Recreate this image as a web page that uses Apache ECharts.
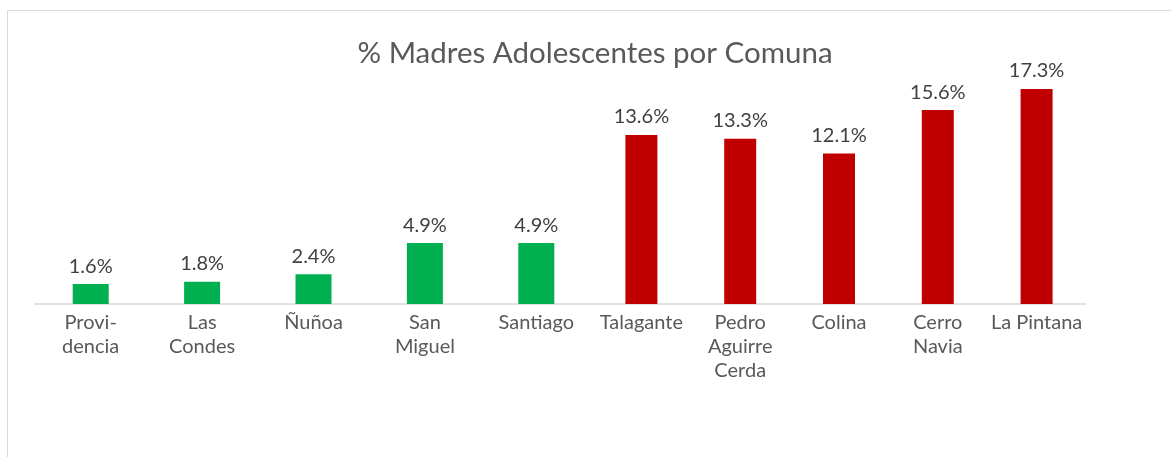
<!DOCTYPE html>
<html>
<head>
<meta charset="utf-8">
<script src="https://cdn.jsdelivr.net/npm/echarts@6/dist/echarts.min.js"></script>
<style>
html,body{margin:0;padding:0;background:#fff;overflow:hidden;}
#frame{position:absolute;left:7px;top:10px;width:1400px;height:700px;border:1px solid #d9d9d9;box-sizing:border-box;}
#chart{position:absolute;left:0;top:0;width:1171px;height:457px;}
</style>
</head>
<body>
<div id="frame"></div>
<div id="chart"></div>
<script>
const title = '% Madres Adolescentes por Comuna';
const lowCategories = ['Provi-\ndencia', 'Las\nCondes', 'Ñuñoa', 'San\nMiguel', 'Santiago'];
const lowValues = [1.6, 1.8, 2.4, 4.9, 4.9];
const highCategories = ['Talagante', 'Pedro\nAguirre\nCerda', 'Colina', 'Cerro\nNavia', 'La Pintana'];
const highValues = [13.6, 13.3, 12.1, 15.6, 17.3];

const chart = echarts.init(document.getElementById('chart'));
const font = 'Lato, "Open Sans", sans-serif';
function xAxis(idx, cats) {
  return {
    type: 'category', gridIndex: idx, data: cats,
    axisLine: {lineStyle: {color: '#d9d9d9', width: 1.5}},
    axisTick: {show: false},
    axisLabel: {color: '#595959', fontSize: 20, fontFamily: font, lineHeight: 24, margin: 7, interval: 0}
  };
}
function yAxis(idx) {
  return {type: 'value', gridIndex: idx, min: 0, max: 20, show: false, splitLine: {show: false}};
}
function series(idx, vals, color, width) {
  return {
    type: 'bar', xAxisIndex: idx, yAxisIndex: idx, data: vals, barWidth: width,
    itemStyle: {color: color},
    label: {show: true, position: 'top', distance: 8, color: '#404040', fontSize: 20, fontFamily: font,
      formatter: p => p.value.toFixed(1) + '%'}
  };
}
chart.setOption({
  animation: false,
  title: {text: title, left: 590, top: 33, textAlign: 'center',
    textStyle: {color: '#595959', fontSize: 29.5, fontWeight: 'normal', fontFamily: font}},
  grid: [
    {left: 35, width: 557, top: 55.4, height: 248.6},
    {left: 592, width: 494, top: 55.4, height: 248.6}
  ],
  xAxis: [xAxis(0, lowCategories), xAxis(1, highCategories)],
  yAxis: [yAxis(0), yAxis(1)],
  series: [series(0, lowValues, '#00b050', 36), series(1, highValues, '#c00000', 32)]
});
</script>
</body>
</html>
